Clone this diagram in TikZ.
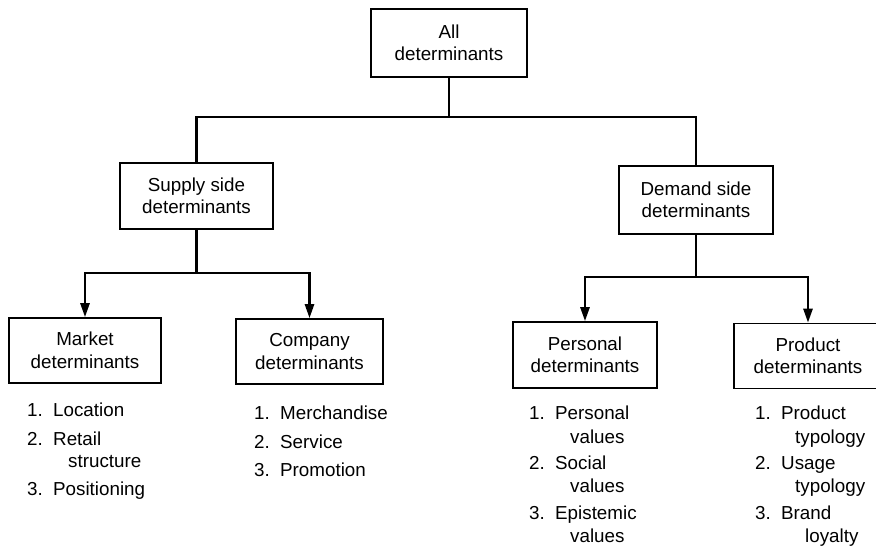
\documentclass[tikz,border=0pt]{standalone}
\usepackage{fontspec}
\setmainfont{Liberation Sans}
\usetikzlibrary{arrows.meta}
\newcommand\numbox[1]{\makebox[26pt][l]{#1}}
\begin{document}
\begin{tikzpicture}[x=1pt,y=-1pt,
  txt/.style={font=\fontsize{18.8}{22.5}\selectfont},
  box/.style={txt,draw,line width=1.6pt,align=center,inner sep=0pt},
  conn/.style={line width=2.5pt},
  arr/.style={conn,-{Triangle[width=9pt,length=14pt]}},
  item/.style={txt,anchor=base west,inner sep=0pt}]
\useasboundingbox (0,0) rectangle (876,553);
% boxes
\node[box,minimum width=156pt,minimum height=68pt] (top) at (449,43) {All\\determinants};
\node[box,minimum width=153pt,minimum height=66pt] (supply) at (196.5,196) {Supply side\\determinants};
\node[box,minimum width=154pt,minimum height=68pt] (demand) at (696,200) {Demand side\\determinants};
\node[box,minimum width=152pt,minimum height=65pt] (market) at (85,350.5) {Market\\determinants};
\node[box,minimum width=147pt,minimum height=65pt] (company) at (309.5,351.5) {Company\\determinants};
\node[box,minimum width=144pt,minimum height=66pt] (personal) at (585,355) {Personal\\determinants};
\node[box,minimum width=148pt,minimum height=65pt] (product) at (808,356) {Product\\determinants};
% connectors
\coordinate (j0) at (449,117);
\coordinate (j1) at (197,273);
\coordinate (j2) at (697,277);
\draw[conn] (top.south) -- (top.south |- j0);
\draw[conn] (supply.north) |- (top.south |- j0) -| (demand.north);
\draw[conn] (supply.south) -- (supply.south |- j1);
\draw[arr] (supply.south |- j1) -| (market.north);
\draw[arr] (supply.south |- j1) -| (company.north);
\draw[conn] (demand.south) -- (demand.south |- j2);
\draw[arr] (demand.south |- j2) -| (personal.north);
\draw[arr] (demand.south |- j2) -| (product.north);
% market list
\node[item] (m1) at (27,417) {\numbox{1.}Location};
\node[item] (m2) at (27,445) {\numbox{2.}Retail};
\node[item] (m2b) at (68,467) {structure};
\node[item] (m3) at (27,495) {\numbox{3.}Positioning};
% company list
\node[item] (c1) at (254,419) {\numbox{1.}Merchandise};
\node[item] (c2) at (254,448) {\numbox{2.}Service};
\node[item] (c3) at (254,476) {\numbox{3.}Promotion};
% personal list
\node[item] (p1) at (529,420) {\numbox{1.}Personal};
\node[item] (p1b) at (570,443) {values};
\node[item] (p2) at (529,469) {\numbox{2.}Social};
\node[item] (p2b) at (570,492) {values};
\node[item] (p3) at (529,519) {\numbox{3.}Epistemic};
\node[item] (p3b) at (570,542) {values};
% product list
\node[item] (r1) at (755,420) {\numbox{1.}Product};
\node[item] (r1b) at (795,443) {typology};
\node[item] (r2) at (755,469) {\numbox{2.}Usage};
\node[item] (r2b) at (795,492) {typology};
\node[item] (r3) at (755,519) {\numbox{3.}Brand};
\node[item] (r3b) at (805,542) {loyalty};
\end{tikzpicture}
\end{document}
